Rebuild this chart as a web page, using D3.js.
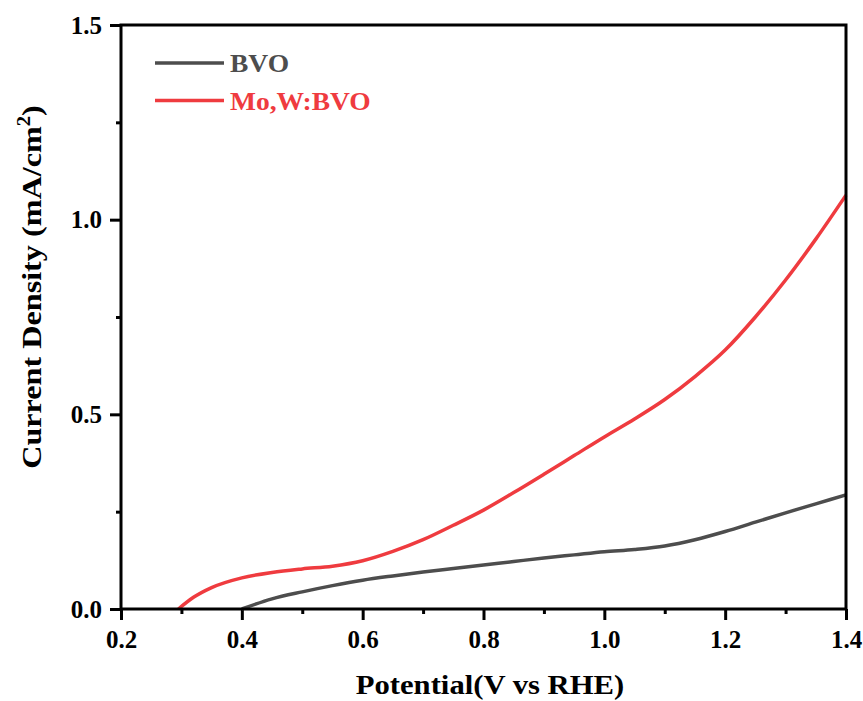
<!DOCTYPE html>
<html>
<head>
<meta charset="utf-8">
<script src="https://cdn.jsdelivr.net/npm/d3@7"></script>
<style>
  html, body { margin: 0; padding: 0; background: #fff; }
  svg { display: block; }
  text { font-family: "Liberation Serif", "Times New Roman", serif; font-weight: bold; }
</style>
</head>
<body>
<svg id="chart" width="863" height="701"></svg>
<script>
// --- data ---
const bvoV   = [0.40, 0.45, 0.50, 0.55, 0.60, 0.65, 0.70, 0.75, 0.80, 0.85, 0.90, 0.95, 1.00, 1.05, 1.10, 1.15, 1.20, 1.25, 1.30, 1.35, 1.40];
const bvoJ   = [0.000, 0.026, 0.044, 0.060, 0.074, 0.085, 0.095, 0.104, 0.113, 0.122, 0.131, 0.139, 0.147, 0.153, 0.162, 0.178, 0.199, 0.223, 0.247, 0.270, 0.293];
const mowV   = [0.295, 0.32, 0.35, 0.40, 0.45, 0.50, 0.55, 0.60, 0.65, 0.70, 0.75, 0.80, 0.85, 0.90, 0.95, 1.00, 1.05, 1.10, 1.15, 1.20, 1.25, 1.30, 1.35, 1.40];
const mowJ   = [0.000, 0.030, 0.055, 0.080, 0.094, 0.103, 0.110, 0.124, 0.148, 0.178, 0.215, 0.254, 0.299, 0.346, 0.394, 0.442, 0.488, 0.538, 0.597, 0.665, 0.750, 0.845, 0.950, 1.063];
const seriesNames  = ["BVO", "Mo,W:BVO"];
const seriesColors = ["#4d4d4d", "#ef3b3f"];
const xTicks = [0.2, 0.4, 0.6, 0.8, 1.0, 1.2, 1.4];
const yTicks = [0.0, 0.5, 1.0, 1.5];

const series = [
  { name: seriesNames[0], color: seriesColors[0], pts: bvoV.map((v, i) => [v, bvoJ[i]]) },
  { name: seriesNames[1], color: seriesColors[1], pts: mowV.map((v, i) => [v, mowJ[i]]) },
];

const M = { left: 121, right: 846, top: 25, bottom: 609 };
const svg = d3.select("#chart");

const x = d3.scaleLinear().domain([0.2, 1.4]).range([M.left, M.right]);
const y = d3.scaleLinear().domain([0, 1.5]).range([M.bottom, M.top]);

// minor ticks first (short, outward)
const xMinor = d3.range(0.3, 1.4, 0.2);
const yMinor = d3.range(0.25, 1.5, 0.5);

const gx = svg.append("g").attr("transform", `translate(0,${M.bottom})`);
gx.call(d3.axisBottom(x).tickValues(xMinor).tickSize(5).tickFormat(""));
gx.append("g").call(d3.axisBottom(x).tickValues(xTicks).tickSize(11).tickPadding(10).tickFormat(d3.format(".1f")));

const gy = svg.append("g").attr("transform", `translate(${M.left},0)`);
gy.call(d3.axisLeft(y).tickValues(yMinor).tickSize(5).tickFormat(""));
gy.append("g").call(d3.axisLeft(y).tickValues(yTicks).tickSize(11).tickPadding(8).tickFormat(d3.format(".1f")));

svg.selectAll(".domain").remove();
svg.selectAll(".tick line").attr("stroke", "#000").attr("stroke-width", 3);
svg.selectAll(".tick text").attr("fill", "#000").style("font-size", "25px")
   .style("font-family", '"Liberation Serif", serif').style("font-weight", "bold");

// curves
const line = d3.line().x(d => x(d[0])).y(d => y(d[1])).curve(d3.curveMonotoneX);
svg.append("g").selectAll("path").data(series).join("path")
  .attr("d", d => line(d.pts))
  .attr("fill", "none")
  .attr("stroke", d => d.color)
  .attr("stroke-width", 3.5)
  .attr("stroke-linejoin", "round");

// frame
svg.append("rect")
  .attr("x", M.left).attr("y", M.top)
  .attr("width", M.right - M.left).attr("height", M.bottom - M.top)
  .attr("fill", "none").attr("stroke", "#000").attr("stroke-width", 3);

// legend
const leg = svg.append("g").selectAll("g").data(series).join("g")
  .attr("transform", (d, i) => `translate(155,${63 + i * 37.5})`);
leg.append("line").attr("x1", 0).attr("x2", 69).attr("y1", 0).attr("y2", 0)
  .attr("stroke", d => d.color).attr("stroke-width", 3.5);
leg.append("text").attr("transform", "translate(75,9) scale(1.1,1)")
  .attr("fill", d => d.color).style("font-size", "25px").text(d => d.name);

// axis titles (the reference type is a little wider than Liberation Serif)
svg.append("text").attr("transform", "translate(490,694) scale(1.095,1)")
  .attr("text-anchor", "middle").style("font-size", "28px").attr("fill", "#000")
  .text("Potential(V vs RHE)");

const yt = svg.append("text")
  .attr("transform", "translate(41,287) rotate(-90) scale(1.15,1)")
  .attr("text-anchor", "middle").style("font-size", "28px").attr("fill", "#000");
yt.append("tspan").text("Current Density (mA/cm");
yt.append("tspan").attr("dy", -11).style("font-size", "18px").text("2");
yt.append("tspan").attr("dy", 11).text(")");
</script>
</body>
</html>
